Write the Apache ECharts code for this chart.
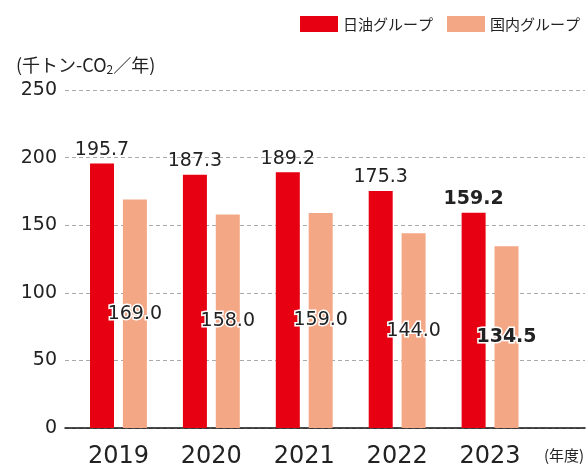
<!DOCTYPE html>
<html>
<head>
<meta charset="utf-8">
<script src="https://cdn.jsdelivr.net/npm/echarts@6/dist/echarts.min.js"></script>
<style>
  html, body { margin: 0; padding: 0; background: #fff; }
  #chart { width: 587px; height: 469px; }
</style>
</head>
<body>
<div id="chart"></div>
<script>
const years = ['2019', '2020', '2021', '2022', '2023']
const nichiyuGroup = [195.7, 187.3, 189.2, 175.3, 159.2]
const domesticGroup = [169.0, 158.0, 159.0, 144.0, 134.5]
const yTicks = { min: 0, max: 250, interval: 50 }

const FONT = '"Noto Sans CJK JP", "Noto Sans", sans-serif'
const NUM_FONT = '"DejaVu Sans", "Noto Sans CJK JP", sans-serif'
const RED = '#E60012'
const ORANGE = '#F3A785'

// 最新年度だけ太字
const withBoldLast = (arr) => arr.map((v, i) => (
  i === arr.length - 1 ? { value: v, label: { fontWeight: 'bold' } } : v
))

const chart = echarts.init(document.getElementById('chart'))

const option = {
  animation: false,
  textStyle: { fontFamily: FONT },
  title: {
    left: 11,
    top: 50,
    text: '{a|(千トン-CO}{b|2}{a|／年)}',
    textStyle: {
      fontWeight: 'normal',
      rich: {
        a: { fontSize: 18, color: '#222', fontFamily: FONT, fontWeight: 'normal' },
        b: { fontSize: 12, color: '#222', fontFamily: FONT, fontWeight: 'normal', padding: [8, 0, 0, 0] }
      }
    }
  },
  legend: {
    top: 11,
    right: 2,
    icon: 'rect',
    itemWidth: 38,
    itemHeight: 16,
    itemGap: 14,
    textStyle: { fontSize: 15, color: '#222', fontFamily: FONT },
    data: ['日油グループ', '国内グループ']
  },
  graphic: [{
    type: 'text',
    left: 544,
    top: 448,
    style: { text: '(年度)', fontSize: 15, fill: '#222', fontFamily: FONT }
  }],
  grid: [
    // 背景用（グリッド線と軸線を右端まで）
    { left: 65, right: 2, top: 90, bottom: 41 },
    // 棒グラフ用
    { left: 72, width: 464.5, top: 90, bottom: 41 }
  ],
  xAxis: [
    {
      gridIndex: 0,
      type: 'value',
      min: 0,
      max: 1,
      axisLine: { show: true, onZero: false, lineStyle: { color: '#111', width: 1.5 } },
      axisTick: { show: false },
      axisLabel: { show: false },
      splitLine: { show: false }
    },
    {
      gridIndex: 1,
      type: 'category',
      data: years,
      axisLine: { show: false },
      axisTick: { show: false },
      axisLabel: { fontSize: 24, color: '#222', margin: 17, fontFamily: NUM_FONT }
    }
  ],
  yAxis: [
    {
      gridIndex: 0,
      type: 'value',
      min: yTicks.min,
      max: yTicks.max,
      interval: yTicks.interval,
      axisLine: { show: false },
      axisTick: { show: false },
      axisLabel: { fontSize: 19, color: '#222', margin: 8, fontFamily: NUM_FONT },
      splitLine: { lineStyle: { color: '#aaa', type: [4, 3], width: 1 } }
    },
    {
      gridIndex: 1,
      type: 'value',
      min: yTicks.min,
      max: yTicks.max,
      interval: yTicks.interval,
      show: false
    }
  ],
  series: [
    {
      name: '日油グループ',
      type: 'bar',
      xAxisIndex: 1,
      yAxisIndex: 1,
      barWidth: 24,
      barGap: '37%',
      itemStyle: { color: RED },
      label: {
        show: true,
        position: 'top',
        distance: 4,
        fontSize: 19,
        color: '#222',
        fontFamily: NUM_FONT,
        formatter: (p) => p.value.toFixed(1)
      },
      data: withBoldLast(nichiyuGroup)
    },
    {
      name: '国内グループ',
      type: 'bar',
      xAxisIndex: 1,
      yAxisIndex: 1,
      barWidth: 24,
      itemStyle: { color: ORANGE },
      label: {
        show: true,
        position: 'inside',
        fontSize: 19,
        color: '#222',
        fontFamily: NUM_FONT,
        textBorderColor: '#fff',
        textBorderWidth: 3,
        formatter: (p) => p.value.toFixed(1)
      },
      data: withBoldLast(domesticGroup)
    }
  ]
}

chart.setOption(option)
</script>
</body>
</html>
